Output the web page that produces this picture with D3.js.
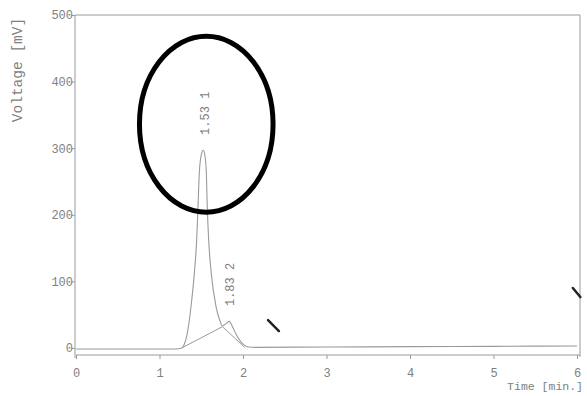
<!DOCTYPE html>
<html><head><meta charset="utf-8">
<script src="https://cdn.jsdelivr.net/npm/d3@7"></script>
<style>body{margin:0;background:#fff}svg{display:block}</style>
</head><body>
<svg id="c" width="587" height="396"></svg>
<script>
const xTicks = [0,1,2,3,4,5,6];
const yTicks = [0,100,200,300,400,500];
const traceTime  = [0,0.5,1.0,1.2,1.26,1.293,1.333,1.377,1.417,1.445,1.461,1.477,1.5,1.525,1.545,1.561,1.572,1.589,1.62,1.677,1.72,1.754,1.80,1.836,1.87,1.92,1.97,2.02,2.07,2.15,3,4,5,6];
const traceValue = [-1.5,-1.5,-1.5,-1.5,-0.5,4.5,22,62,112,162,212,263,290,297,288,263,212,162,112,62,42,33,37,40,33,20,10,4,1.5,1,1.5,2,2.5,3];
const baseTime  = [1.28,1.754,2.02];
const baseValue = [1,32,1];
const peakTime  = [1.53,1.83];
const peakLabel = ["1.53 1","1.83 2"];
const peakLabelValue = [320,63];
const markerTime  = [[2.30,2.43],[5.95,6.04]];
const markerValue = [[42,25.5],[90,76.5]];

const svg = d3.select("#c");
const x = d3.scaleLinear().domain([0,6]).range([76,577]);
const y = d3.scaleLinear().domain([0,500]).range([348,15]);
const grey = "#9a9a9a", txt = "#808080";
const font = "'Liberation Mono','DejaVu Sans Mono',monospace";
const axisY = y(0) + 7;

// frame
svg.append("path").attr("d",`M${x(0)-1},${y(500)}H580V${axisY+2}`).attr("fill","none").attr("stroke",grey).attr("stroke-width",1);
// x axis
const gx = svg.append("g").attr("transform",`translate(0,${axisY})`)
  .call(d3.axisBottom(x).tickValues(xTicks).tickSize(4).tickSizeOuter(0).tickFormat(d3.format("d")));
gx.select(".domain").attr("stroke",grey).attr("d",`M${x(0)},0H580`);
gx.selectAll(".tick line").attr("stroke",grey);
gx.selectAll(".tick text").attr("fill",txt).attr("font-family",font).attr("font-size",12).attr("dy","1.25em");
// y axis
const gy = svg.append("g").attr("transform",`translate(${x(0)-1},0)`)
  .call(d3.axisLeft(y).tickValues(yTicks).tickSize(3).tickSizeOuter(0));
gy.select(".domain").attr("stroke",grey).attr("d",`M0,${y(500)}V${axisY+3}`);
gy.selectAll(".tick line").attr("stroke",grey);
gy.selectAll(".tick text").attr("fill",txt).attr("font-family",font).attr("font-size",12).attr("x",-2);

// axis titles
svg.append("text").attr("transform","translate(22,70) rotate(-90)").attr("text-anchor","middle")
  .attr("fill",txt).attr("font-family",font).attr("font-size",14.5).text("Voltage [mV]");
svg.append("text").attr("x",583).attr("y",390).attr("text-anchor","end")
  .attr("fill",txt).attr("font-family",font).attr("font-size",11.5).text("Time [min.]");

// trace
const line = d3.line().x(d=>x(d[0])).y(d=>y(d[1])).curve(d3.curveMonotoneX);
svg.append("path").datum(traceTime.map((t,i)=>[t,traceValue[i]]))
  .attr("d",line).attr("fill","none").attr("stroke",grey).attr("stroke-width",1.1);
// integration baseline
svg.append("path").datum(baseTime.map((t,i)=>[t,baseValue[i]]))
  .attr("d",d3.line().x(d=>x(d[0])).y(d=>y(d[1]))).attr("fill","none").attr("stroke",grey).attr("stroke-width",1);

// peak labels
peakTime.forEach((t,i)=>{
  svg.append("text").attr("transform",`translate(${x(t)+5},${y(peakLabelValue[i])}) rotate(-90)`)
    .attr("fill",txt).attr("font-family",font).attr("font-size",12).text(peakLabel[i]);
});

// event markers
markerTime.forEach((m,i)=>{
  svg.append("line").attr("x1",x(m[0])).attr("y1",y(markerValue[i][0])).attr("x2",x(m[1])).attr("y2",y(markerValue[i][1]))
    .attr("stroke","#222").attr("stroke-width",2.5).attr("stroke-linecap","round");
});

// highlight ellipse
svg.append("ellipse").attr("cx",x(1.56)).attr("cy",y(336)).attr("rx",x(0.8)-x(0)).attr("ry",y(0)-y(132))
  .attr("fill","none").attr("stroke","#000").attr("stroke-width",5);
</script>
</body></html>
